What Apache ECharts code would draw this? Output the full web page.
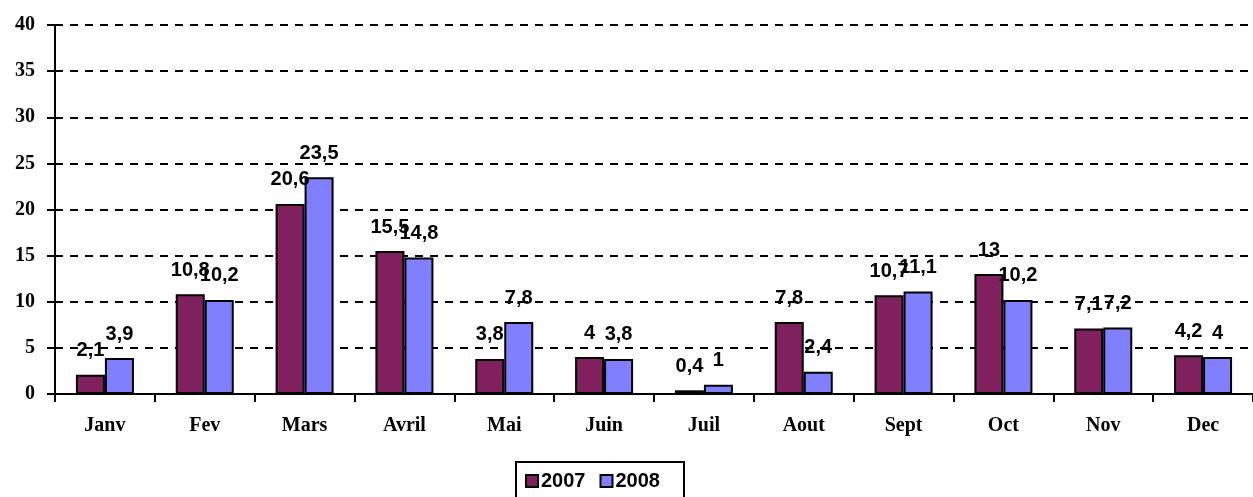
<!DOCTYPE html>
<html>
<head>
<meta charset="utf-8">
<script src="https://cdn.jsdelivr.net/npm/echarts@6/dist/echarts.min.js"></script>
<style>
  html, body { margin: 0; padding: 0; background: #fff; }
  #chart { width: 1253px; height: 497px; }
</style>
</head>
<body>
<div id="chart"></div>
<script>
const months = ["Janv", "Fev", "Mars", "Avril", "Mai", "Juin", "Juil", "Aout", "Sept", "Oct", "Nov", "Dec"];
const values2007 = [2.1, 10.8, 20.6, 15.5, 3.8, 4, 0.4, 7.8, 10.7, 13, 7.1, 4.2];
const values2008 = [3.9, 10.2, 23.5, 14.8, 7.8, 3.8, 1, 2.4, 11.1, 10.2, 7.2, 4];

const chart = echarts.init(document.getElementById("chart"), null, { renderer: "canvas" });

const sans = "Liberation Sans, Arial, sans-serif";
const serif = "Liberation Serif, Times New Roman, serif";

const labelStyle = {
  show: true,
  position: "top",
  distance: 14,
  color: "#000",
  fontFamily: sans,
  fontWeight: "bold",
  fontSize: 20,
  formatter: p => String(p.value).replace(".", ",")
};

chart.setOption({
  animation: false,
  grid: { left: 55, right: -2, top: 25, bottom: 103, containLabel: false },
  legend: {
    bottom: -14,
    left: 516,
    itemWidth: 12,
    itemHeight: 12,
    itemGap: 14,
    padding: [9, 24, 20, 9],
    borderColor: "#000",
    borderWidth: 2,
    borderRadius: 0,
    textStyle: { fontFamily: sans, fontWeight: "bold", fontSize: 20, color: "#000", padding: [0, 0, 0, -2] },
    data: [
      { name: "2007", icon: "rect", itemStyle: { borderColor: "#000", borderWidth: 2 } },
      { name: "2008", icon: "rect", itemStyle: { borderColor: "#000", borderWidth: 2 } }
    ]
  },
  xAxis: {
    type: "category",
    data: months,
    axisLine: { lineStyle: { color: "#000", width: 2 } },
    axisTick: { show: true, length: 8, lineStyle: { color: "#000", width: 2 } },
    axisLabel: { margin: 22, color: "#000", fontFamily: serif, fontWeight: "bold", fontSize: 20 }
  },
  yAxis: {
    type: "value",
    min: 0,
    max: 40,
    interval: 5,
    axisLine: { show: true, lineStyle: { color: "#000", width: 2 } },
    axisTick: { show: true, length: 8, lineStyle: { color: "#000", width: 2 } },
    axisLabel: { margin: 20, color: "#000", fontFamily: serif, fontWeight: "bold", fontSize: 20 },
    splitLine: { show: true, lineStyle: { color: "#000", width: 2, type: [8, 7] } }
  },
  series: [
    {
      name: "2007",
      type: "bar",
      data: values2007,
      barWidth: 29,
      barGap: "0%",
      itemStyle: { color: "#80205F", borderColor: "#000", borderWidth: 2 },
      label: labelStyle
    },
    {
      name: "2008",
      type: "bar",
      data: values2008,
      barWidth: 29,
      itemStyle: { color: "#8080FF", borderColor: "#000", borderWidth: 2 },
      label: labelStyle
    }
  ]
});
</script>
</body>
</html>
